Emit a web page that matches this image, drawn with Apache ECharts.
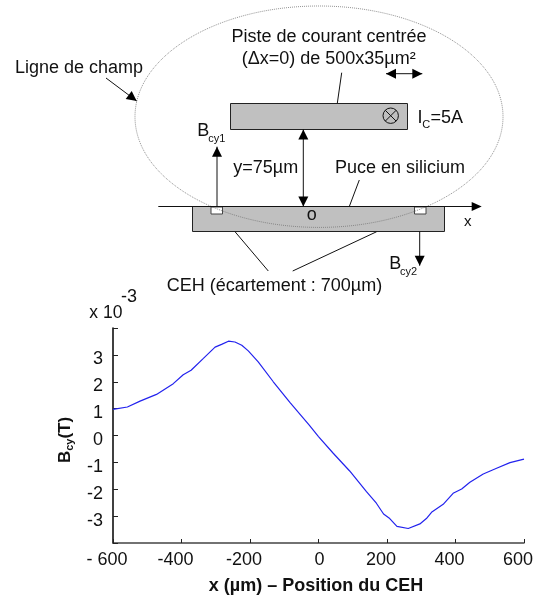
<!DOCTYPE html>
<html><head><meta charset="utf-8">
<style>html,body{margin:0;padding:0;background:#fff}#c{width:541px;height:599px}</style>
<script src="https://cdn.jsdelivr.net/npm/echarts@6/dist/echarts.min.js"></script>
</head><body><div id="c"></div>
<script>
const positions = [-600,-558,-521,-473,-424,-395,-372,-336,-302,-283,-263,-244,-224,-205,-176,-132,-83,-27,0,43,91,140,169,190,208,229,262,296,315,330,364,393,418,442,481,520,559,600];
const fieldValues = [0.97,1.06,1.28,1.53,1.93,2.26,2.43,2.87,3.29,3.39,3.51,3.48,3.36,3.15,2.74,2.0,1.22,0.39,-0.04,-0.66,-1.32,-2.09,-2.52,-2.92,-3.09,-3.38,-3.46,-3.29,-3.09,-2.86,-2.56,-2.15,-1.99,-1.74,-1.43,-1.22,-1.01,-0.88];
const xTickLabels = {'-600':'- 600','-400':'-400','-200':'-200','0':'{z|0}','200':'200','400':'400','600':'600'};
const yTickLabels = {'-3':'-3','-2':'-2','-1':'-1','0':'0','1':'1','2':'2','3':'3'};

const FONT = '"Liberation Sans", Arial, sans-serif';
const TXT = '#111';
const FS = 18;
function text(x,y,s,size,align,extra){
  return {type:'text',z:5,x:x,y:y,style:Object.assign({text:s,fontFamily:FONT,fontSize:size||FS,fill:TXT,align:align||'left',verticalAlign:'middle'},extra||{})};
}
function line(x1,y1,x2,y2,w,col){
  return {type:'line',z:4,shape:{x1,y1,x2,y2},style:{stroke:col||'#111',lineWidth:w||1}};
}
function head(x,y,fromX,fromY,len,wid){
  const a=Math.atan2(y-fromY,x-fromX),l=len||10,h=(wid||10)/2;
  const bx=x-l*Math.cos(a),by=y-l*Math.sin(a),nx=-Math.sin(a),ny=Math.cos(a);
  return {type:'polygon',z:4,shape:{points:[[x,y],[bx+nx*h,by+ny*h],[bx-nx*h,by-ny*h]]},style:{fill:'#000'}};
}
function arrow(x1,y1,x2,y2){return [line(x1,y1,x2,y2),head(x2,y2,x1,y1)];}
function dbl(x1,y1,x2,y2){return [line(x1,y1,x2,y2),head(x2,y2,x1,y1),head(x1,y1,x2,y2)];}

const diagram = [
  {type:'rect',z:2,shape:{x:230.5,y:103.5,width:177,height:26},style:{fill:'#c0c0c0',stroke:'#222',lineWidth:1}},
  {type:'rect',z:2,shape:{x:192.5,y:206.5,width:252,height:25},style:{fill:'#c0c0c0',stroke:'#222',lineWidth:1}},
  {type:'rect',z:3,shape:{x:211,y:207,width:11.5,height:7},style:{fill:'#fff',stroke:'#444',lineWidth:1}},
  {type:'rect',z:3,shape:{x:414.5,y:207,width:11.5,height:7},style:{fill:'#fff',stroke:'#444',lineWidth:1}},
  {type:'ellipse',z:3,shape:{cx:319,cy:116.7,rx:184,ry:110.7},style:{fill:'none',stroke:'#777',lineWidth:0.8,lineDash:[1,1]}},
  line(158.3,206.5,472,206.5,1),head(481.7,206.5,470,206.5,10,9),
  ...arrow(106,78,136.7,101),
  line(341.7,72.7,337.3,103.3),
  ...dbl(386,73.7,422.3,73.7),
  {type:'circle',z:4,shape:{cx:390.7,cy:115.7,r:7.7},style:{fill:'none',stroke:'#111',lineWidth:1}},
  line(385.3,110.3,396.1,121.1),line(396.1,110.3,385.3,121.1),
  ...arrow(217,206.5,217,146.7),
  ...dbl(303.3,129.5,303.3,206.5),
  line(359.3,180,349.3,206.5),
  line(235,231.7,268.3,271),line(376.7,231.7,292.7,271),
  ...arrow(419.7,231.5,419.7,265.7),
  text(15,67.7,'Ligne de champ'),
  text(329,37,'Piste de courant centrée',FS,'center'),
  text(328.7,59,'(Δx=0) de 500x35µm²',FS,'center'),
  text(417.5,117.7,'I'),text(422.3,125,'C',11),text(430.5,117.7,'=5A'),
  text(197.3,130.7,'B'),text(208.3,139.3,'cy1',11),
  text(233.3,168.3,'y=75µm'),
  text(335,167.7,'Puce en silicium'),
  text(311.7,215,'o',FS,'center'),
  text(467.7,221.7,'x',15,'center'),
  text(389.3,264,'B'),text(400,272.3,'cy2',11),
  text(166.7,286,'CEH (écartement : 700µm)'),
  text(89.3,312.7,'x 10',17.5),
  text(121,297,'-3',18)
];

const chart = echarts.init(document.getElementById('c'),null,{renderer:'canvas'});
chart.setOption({
  animation:false,
  backgroundColor:'#fff',
  grid:{left:113,top:328,width:411,height:215,containLabel:false},
  xAxis:{type:'value',min:-600,max:600,interval:200,
    axisLine:{onZero:false,lineStyle:{color:'#444',width:1.5}},
    axisTick:{show:true,inside:true,length:4,lineStyle:{color:'#222',width:1}},
    splitLine:{show:false},
    axisLabel:{margin:8,color:TXT,fontFamily:FONT,fontSize:FS,hideOverlap:false,showMinLabel:true,showMaxLabel:true,
      padding:[0,12,0,0],
      rich:{z:{color:TXT,fontFamily:FONT,fontSize:FS,padding:[0,0,0,14]}},
      formatter:v=>xTickLabels[String(v)]||''},
    name:'x (µm) – Position du CEH',nameLocation:'middle',nameGap:34,
    nameTextStyle:{color:TXT,fontFamily:FONT,fontSize:18,fontWeight:'bold',padding:[0,5,0,0]}},
  yAxis:{type:'value',min:-4,max:4,interval:1,
    axisLine:{onZero:false,lineStyle:{color:'#000',width:1.5}},
    axisTick:{show:true,inside:true,length:5,lineStyle:{color:'#222',width:1}},
    splitLine:{show:false},
    axisLabel:{margin:10,color:TXT,fontFamily:FONT,fontSize:FS,showMinLabel:true,showMaxLabel:true,
      rich:{n:{color:TXT,fontFamily:FONT,fontSize:FS,padding:[9,0,0,0]}},
      formatter:v=>{const t=yTickLabels[String(v)];return t?'{n|'+t+'}':'';}},
    name:'{b|B}{s|cy}{b|(T)}',nameLocation:'middle',nameRotate:90,nameGap:38,
    nameTextStyle:{padding:[0,9,0,0],rich:{
      b:{fontFamily:FONT,fontSize:17,fontWeight:'bold',color:TXT,lineHeight:20},
      s:{fontFamily:FONT,fontSize:11,fontWeight:'bold',color:TXT,lineHeight:12,verticalAlign:'bottom'}
    }}},
  series:[{type:'line',data:positions.map((p,i)=>[p,fieldValues[i]]),showSymbol:false,symbol:'none',smooth:false,clip:false,
    lineStyle:{color:'#2222ee',width:1.2}}],
  graphic:{elements:diagram}
});
</script></body></html>
